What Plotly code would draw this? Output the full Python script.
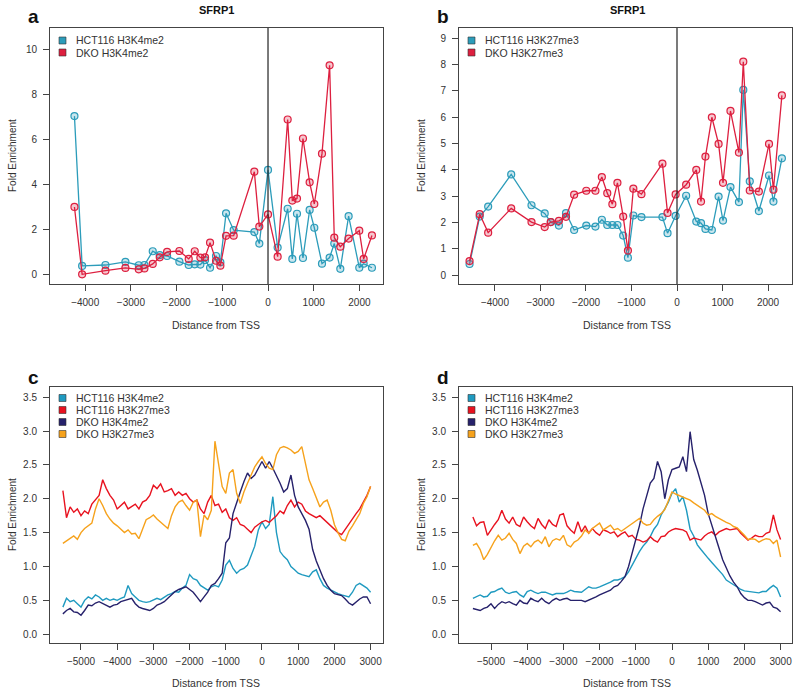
import plotly.graph_objects as go

W, H = 800, 693

# ---------------- Panel a: SFRP1 H3K4me2 ----------------
a_x = [-4235, -4067, -3557, -3120, -2828, -2704, -2522, -2369, -2208, -1939, -1735, -1603, -1480, -1378,
       -1268, -1137, -1042, -918, -751, -299, -190, 0, 211, 430, 532, 634, 765, 911, 1013, 1181, 1348,
       1450, 1582, 1764, 1997, 2092, 2274]
a_hct = [7.03, 0.40, 0.44, 0.58, 0.43, 0.44, 1.05, 0.88, 0.84, 0.59, 0.44, 0.47, 0.46, 0.66, 0.32, 0.84,
         0.56, 2.73, 1.98, 1.90, 1.39, 4.65, 1.21, 2.93, 0.71, 2.71, 0.75, 2.88, 2.09, 0.50, 0.77, 1.39,
         0.27, 2.60, 0.32, 0.50, 0.32]
a_dko = [3.01, 0.03, 0.19, 0.31, 0.25, 0.29, 0.49, 0.78, 1.02, 1.06, 0.71, 1.05, 0.77, 0.78, 1.43, 0.63,
         0.41, 1.73, 1.74, 4.57, 2.14, 2.68, 0.81, 6.88, 3.29, 3.38, 6.04, 4.10, 3.14, 5.37, 9.28, 1.65,
         1.25, 1.61, 1.96, 0.71, 1.75]

# ---------------- Panel b: SFRP1 H3K27me3 ----------------
b_x = [-4558, -4335, -4149, -3643, -3197, -2907, -2773, -2595, -2439, -2260, -1993, -1792, -1651, -1532,
       -1420, -1309, -1182, -1078, -959, -781, -320, -208, -30, 201, 424, 528, 625, 766, 914, 1011, 1175,
       1361, 1457, 1599, 1799, 2022, 2119, 2305]
b_hct = [0.42, 2.22, 2.60, 3.82, 2.65, 2.34, 2.01, 1.88, 2.35, 1.71, 1.88, 1.84, 2.10, 1.90, 1.90, 1.90,
         1.50, 0.66, 2.26, 2.20, 2.20, 1.59, 2.25, 3.01, 2.03, 1.97, 1.75, 1.71, 2.98, 2.07, 3.34, 2.77,
         7.03, 3.56, 2.43, 3.78, 2.79, 4.43]
b_dko = [0.53, 2.31, 1.61, 2.53, 2.01, 1.82, 2.01, 2.06, 2.21, 3.05, 3.20, 3.20, 3.72, 3.11, 2.69, 3.50,
         2.22, 0.93, 3.28, 3.07, 4.23, 2.36, 3.06, 3.43, 3.99, 2.79, 4.50, 5.99, 4.98, 3.50, 6.23, 4.65,
         8.10, 3.21, 3.17, 4.98, 3.24, 6.82]

# ---------------- Panels c, d: average profiles ----------------
profile_x = list(range(-5500, 3001, 100))

c_hct_k4 = [0.40, 0.53, 0.48, 0.50, 0.45, 0.40, 0.50, 0.55, 0.52, 0.58,
            0.55, 0.50, 0.53, 0.50, 0.52, 0.50, 0.53, 0.55, 0.72, 0.60,
            0.55, 0.50, 0.48, 0.47, 0.48, 0.50, 0.53, 0.51, 0.55, 0.58,
            0.60, 0.63, 0.62, 0.68, 0.72, 0.88, 0.82, 0.80, 0.72, 0.68,
            0.65, 0.70, 0.72, 0.70, 0.80, 1.02, 1.09, 0.97, 0.90, 0.95,
            0.97, 1.02, 1.15, 1.30, 1.54, 1.66, 1.56, 1.62, 2.03, 1.50,
            1.22, 1.15, 1.10, 1.00, 0.95, 0.90, 0.88, 0.87, 0.85, 0.92,
            0.95, 0.82, 0.72, 0.68, 0.65, 0.63, 0.60, 0.58, 0.56, 0.55,
            0.62, 0.72, 0.75, 0.72, 0.68, 0.62]
c_hct_k27 = [2.12, 1.72, 1.88, 1.80, 1.85, 1.75, 1.82, 1.78, 1.92, 1.98,
             2.05, 2.28, 2.15, 2.05, 1.98, 1.85, 1.90, 1.95, 1.85, 1.88,
             1.92, 1.85, 1.95, 1.98, 2.05, 2.20, 2.15, 2.22, 2.10, 2.12,
             2.15, 2.05, 2.10, 2.05, 2.08, 2.00, 1.95, 1.98, 1.85, 1.78,
             1.95, 2.05, 1.90, 1.92, 1.80, 1.85, 1.72, 1.68, 1.72, 1.62,
             1.60, 1.55, 1.50, 1.58, 1.62, 1.66, 1.68, 1.65, 1.70, 1.75,
             1.82, 1.78, 1.90, 1.98, 1.88, 1.95, 1.92, 1.82, 1.78, 1.75,
             1.72, 1.75, 1.70, 1.65, 1.60, 1.55, 1.50, 1.47, 1.55, 1.62,
             1.70, 1.78, 1.85, 1.95, 2.05, 2.18]
c_dko_k4 = [0.30, 0.35, 0.38, 0.33, 0.32, 0.28, 0.35, 0.43, 0.42, 0.46,
            0.48, 0.45, 0.42, 0.40, 0.43, 0.44, 0.48, 0.50, 0.52, 0.53,
            0.45, 0.40, 0.38, 0.36, 0.35, 0.38, 0.43, 0.45, 0.48, 0.53,
            0.58, 0.63, 0.66, 0.68, 0.70, 0.66, 0.62, 0.55, 0.48, 0.55,
            0.62, 0.72, 0.75, 0.82, 0.90, 1.35, 1.42, 1.78, 1.95, 2.10,
            2.25, 2.38, 2.30, 2.35, 2.45, 2.55, 2.45, 2.55, 2.45, 2.35,
            2.23, 2.10, 2.15, 2.35, 2.05, 1.88, 1.78, 1.68, 1.55, 1.25,
            1.08, 0.95, 0.82, 0.72, 0.65, 0.60, 0.59, 0.57, 0.52, 0.46,
            0.43, 0.48, 0.52, 0.55, 0.55, 0.45]
c_dko_k27 = [1.34, 1.38, 1.42, 1.45, 1.40, 1.50, 1.56, 1.60, 1.64, 1.85,
             2.00, 1.90, 1.78, 1.70, 1.64, 1.60, 1.55, 1.50, 1.54, 1.48,
             1.49, 1.41, 1.55, 1.69, 1.72, 1.76, 1.70, 1.65, 1.60, 1.56,
             1.75, 1.88, 1.95, 1.98, 1.90, 1.83, 1.95, 1.98, 1.44, 1.76,
             1.69, 1.83, 2.85, 2.50, 2.18, 2.08, 2.38, 2.43, 2.08, 1.93,
             2.10, 2.23, 2.35, 2.47, 2.55, 2.62, 2.52, 2.45, 2.43, 2.65,
             2.75, 2.77, 2.75, 2.72, 2.67, 2.70, 2.77, 2.52, 2.28, 2.15,
             2.00, 1.88, 1.95, 1.98, 1.83, 1.62, 1.50, 1.40, 1.38, 1.52,
             1.60, 1.70, 1.78, 1.93, 2.03, 2.18]

d_hct_k4 = [0.53, 0.56, 0.58, 0.55, 0.56, 0.62, 0.63, 0.66, 0.68, 0.62,
            0.60, 0.62, 0.63, 0.58, 0.55, 0.63, 0.65, 0.62, 0.60, 0.62,
            0.62, 0.60, 0.58, 0.60, 0.60, 0.60, 0.62, 0.65, 0.63, 0.63,
            0.62, 0.66, 0.70, 0.68, 0.68, 0.70, 0.72, 0.74, 0.77, 0.80,
            0.80, 0.82, 0.85, 0.92, 1.02, 1.14, 1.22, 1.30, 1.36, 1.44,
            1.55, 1.62, 1.76, 1.85, 1.95, 2.08, 2.15, 1.95, 2.03, 1.83,
            1.55, 1.45, 1.32, 1.25, 1.18, 1.12, 1.06, 1.00, 0.94, 0.88,
            0.80, 0.76, 0.73, 0.70, 0.66, 0.64, 0.63, 0.63, 0.62, 0.61,
            0.63, 0.63, 0.68, 0.72, 0.68, 0.55]
d_hct_k27 = [1.73, 1.60, 1.65, 1.66, 1.46, 1.55, 1.62, 1.69, 1.83, 1.70,
             1.64, 1.73, 1.62, 1.59, 1.73, 1.66, 1.60, 1.56, 1.71, 1.62,
             1.56, 1.69, 1.62, 1.59, 1.76, 1.78, 1.60, 1.54, 1.49, 1.66,
             1.51, 1.60, 1.49, 1.56, 1.50, 1.46, 1.54, 1.52, 1.49, 1.51,
             1.44, 1.48, 1.51, 1.44, 1.46, 1.40, 1.39, 1.36, 1.38, 1.44,
             1.39, 1.36, 1.44, 1.45, 1.51, 1.54, 1.56, 1.55, 1.54, 1.51,
             1.39, 1.42, 1.41, 1.39, 1.45, 1.49, 1.51, 1.46, 1.51, 1.53,
             1.56, 1.54, 1.55, 1.56, 1.49, 1.44, 1.39, 1.42, 1.46, 1.44,
             1.44, 1.49, 1.51, 1.76, 1.54, 1.40]
d_dko_k4 = [0.38, 0.36, 0.35, 0.38, 0.40, 0.45, 0.38, 0.44, 0.48, 0.46,
            0.48, 0.45, 0.43, 0.50, 0.46, 0.45, 0.53, 0.50, 0.48, 0.53,
            0.48, 0.45, 0.50, 0.53, 0.50, 0.52, 0.53, 0.50, 0.50, 0.50,
            0.50, 0.48, 0.50, 0.52, 0.55, 0.58, 0.60, 0.62, 0.65, 0.70,
            0.72, 0.78, 0.85, 1.00, 1.20, 1.39, 1.60, 1.85, 2.05, 2.23,
            2.30, 2.55, 2.40, 2.00, 2.28, 2.43, 2.45, 2.47, 2.62, 2.40,
            2.99, 2.58, 2.42, 2.25, 2.05, 1.78, 1.60, 1.45, 1.27, 1.10,
            0.97, 0.86, 0.77, 0.70, 0.60, 0.54, 0.50, 0.50, 0.48, 0.45,
            0.43, 0.46, 0.47, 0.40, 0.38, 0.33]
d_dko_k27 = [1.31, 1.34, 1.25, 1.10, 1.18, 1.29, 1.38, 1.46, 1.39, 1.42,
             1.49, 1.40, 1.34, 1.19, 1.30, 1.34, 1.29, 1.36, 1.39, 1.34,
             1.44, 1.29, 1.38, 1.41, 1.39, 1.46, 1.32, 1.29, 1.36, 1.39,
             1.45, 1.54, 1.49, 1.56, 1.60, 1.64, 1.54, 1.58, 1.61, 1.54,
             1.56, 1.52, 1.56, 1.60, 1.64, 1.68, 1.71, 1.64, 1.61, 1.62,
             1.69, 1.74, 1.78, 1.84, 1.98, 2.10, 2.07, 2.05, 2.03, 2.00,
             1.98, 1.94, 1.90, 1.86, 1.83, 1.76, 1.78, 1.74, 1.71, 1.67,
             1.65, 1.63, 1.59, 1.57, 1.52, 1.46, 1.40, 1.41, 1.40, 1.36,
             1.39, 1.41, 1.40, 1.34, 1.39, 1.14]

# ---------------- Styling ----------------
TEAL_AB = "#2C9CBA"
RED_AB = "#DD1F3F"
TEAL = "#1F9AC0"
RED = "#E8121F"
NAVY = "#26216B"
ORANGE = "#F6A21C"
AXC = "#444444"
TXT = "#333333"
FONT = "Liberation Sans, Arial, sans-serif"


def px(x):
    return x / W


def py(y):
    return 1 - y / H


fig = go.Figure()


def pts(x, y, color, fill, ax):
    fig.add_trace(go.Scatter(
        x=x, y=y, mode="lines+markers", xaxis="x" + ax, yaxis="y" + ax, showlegend=False,
        line=dict(color=color, width=1.3),
        marker=dict(symbol="circle", size=7, color=fill, line=dict(color=color, width=1.2))))


def prof(x, y, color, ax):
    fig.add_trace(go.Scatter(
        x=x, y=y, mode="lines", xaxis="x" + ax, yaxis="y" + ax, showlegend=False,
        line=dict(color=color, width=1.4)))


pts(a_x, a_hct, TEAL_AB, "rgba(44,156,186,0.25)", "")
pts(a_x, a_dko, RED_AB, "rgba(221,31,63,0.25)", "")
pts(b_x, b_hct, TEAL_AB, "rgba(44,156,186,0.25)", "2")
pts(b_x, b_dko, RED_AB, "rgba(221,31,63,0.25)", "2")

prof(profile_x, c_hct_k4, TEAL, "3")
prof(profile_x, c_hct_k27, RED, "3")
prof(profile_x, c_dko_k4, NAVY, "3")
prof(profile_x, c_dko_k27, ORANGE, "3")
prof(profile_x, d_hct_k4, TEAL, "4")
prof(profile_x, d_hct_k27, RED, "4")
prof(profile_x, d_dko_k4, NAVY, "4")
prof(profile_x, d_dko_k27, ORANGE, "4")


def xaxis(dom, rng, tv, anchor):
    return dict(domain=dom, range=rng, tickvals=tv, ticks="outside", ticklen=6, tickcolor=AXC,
                showline=True, mirror=True, linecolor=AXC, linewidth=1, showgrid=False,
                zeroline=False, tickfont=dict(size=10, color=TXT, family=FONT), anchor=anchor,
                automargin=False, ticklabelstandoff=3)


def yaxis(dom, rng, tv, anchor, fmt=None):
    d = dict(domain=dom, range=rng, tickvals=tv, ticks="outside", ticklen=6, tickcolor=AXC,
             showline=True, mirror=True, linecolor=AXC, linewidth=1, showgrid=False,
             zeroline=False, tickfont=dict(size=10, color=TXT, family=FONT), anchor=anchor,
             automargin=False, ticklabelstandoff=4)
    if fmt:
        d["tickformat"] = fmt
    return d


left_dom = [px(50), px(383)]
right_dom = [px(459), px(792)]
top_dom = [py(284), py(28)]
bot_dom = [py(643), py(387)]

fig.update_layout(
    width=W, height=H, margin=dict(l=0, r=0, t=0, b=0),
    paper_bgcolor="white", plot_bgcolor="white",
    font=dict(family=FONT, color=TXT),
    xaxis=xaxis(left_dom, [-4770, 2516], [-4000, -3000, -2000, -1000, 0, 1000, 2000], "y"),
    yaxis=yaxis(top_dom, [-0.4, 10.93], [0, 2, 4, 6, 8, 10], "x"),
    xaxis2=xaxis(right_dom, [-4790, 2527], [-4000, -3000, -2000, -1000, 0, 1000, 2000], "y2"),
    yaxis2=yaxis(top_dom, [-0.34, 9.38], list(range(0, 10)), "x2"),
    xaxis3=xaxis(left_dom, [-5856, 3343], list(range(-5000, 3001, 1000)), "y3"),
    yaxis3=yaxis(bot_dom, [-0.13, 3.65], [0, 0.5, 1, 1.5, 2, 2.5, 3, 3.5], "x3", ".1f"),
    xaxis4=xaxis(right_dom, [-5884, 3315], list(range(-5000, 3001, 1000)), "y4"),
    yaxis4=yaxis(bot_dom, [-0.13, 3.65], [0, 0.5, 1, 1.5, 2, 2.5, 3, 3.5], "x4", ".1f"),
)

shapes = []
# TSS vertical lines in a and b
for xr, yr in (("x", "y domain"), ("x2", "y2 domain")):
    shapes.append(dict(type="line", xref=xr, yref=yr, x0=0, x1=0, y0=0, y1=1,
                       line=dict(color="#222222", width=1.2)))

annotations = []


def text(x, y, s, size=10, bold=False, xanchor="center", angle=0, pad=1):
    annotations.append(dict(x=px(x), y=py(y), xref="paper", yref="paper", text=("<b>%s</b>" % s) if bold else s,
                            showarrow=False, xanchor=xanchor, yanchor="middle", textangle=angle,
                            borderpad=pad,
                            font=dict(size=size, color=TXT if not bold else "#111111", family=FONT)))


# titles and panel labels
text(216, 10, "SFRP1", 11, True)
text(627, 10, "SFRP1", 11, True)
text(33, 17, "a", 19, True)
text(443, 17, "b", 19, True)
text(33, 377, "c", 19, True)
text(443, 377, "d", 19, True)

# axis titles
for xc, yc in ((216, 325), (627, 325), (216, 683), (627, 683)):
    text(xc, yc, "Distance from TSS", 10.5)
for xc, yc in ((12, 156), (421, 156), (12, 515), (421, 515)):
    text(xc, yc, "Fold Enrichment", 10, angle=-90)


def legend(x0, y0, items):
    for i, (name, col) in enumerate(items):
        yc = y0 + i * 12
        shapes.append(dict(type="rect", xref="paper", yref="paper",
                           x0=px(x0), x1=px(x0 + 7), y0=py(yc - 3.5), y1=py(yc + 3.5),
                           fillcolor=col, line=dict(color="#333333", width=0.6)))
        text(x0 + 16, yc, name, 10.5, xanchor="left", pad=0)


legend(59, 40.5, [("HCT116 H3K4me2", TEAL_AB), ("DKO H3K4me2", RED_AB)])
legend(468, 40.5, [("HCT116 H3K27me3", TEAL_AB), ("DKO H3K27me3", RED_AB)])
four = [("HCT116 H3K4me2", TEAL), ("HCT116 H3K27me3", RED), ("DKO H3K4me2", NAVY), ("DKO H3K27me3", ORANGE)]
legend(59, 398, four)
legend(468, 398, four)

fig.update_layout(shapes=shapes, annotations=annotations)

fig.write_html("out.html", config={"displayModeBar": False},
               post_script="document.body.style.margin='0';document.body.style.overflow='hidden';")
